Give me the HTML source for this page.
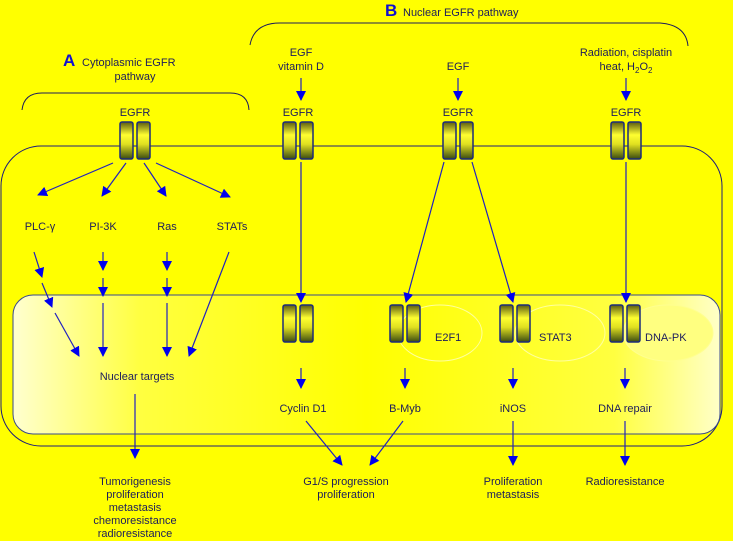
<!DOCTYPE html>
<html><head><style>
html,body{margin:0;padding:0;background:#ffff00;}
svg{display:block;}
text{font-family:"Liberation Sans",Arial,sans-serif;font-size:11px;fill:#1c1c5c;}
</style></head><body>
<svg width="733" height="541" viewBox="0 0 733 541" xmlns="http://www.w3.org/2000/svg">
<defs>
<linearGradient id="nuc" x1="0" y1="0" x2="1" y2="0">
<stop offset="0" stop-color="#ffffd0"/><stop offset="0.18" stop-color="#ffff40"/><stop offset="0.5" stop-color="#ffff00"/><stop offset="0.85" stop-color="#ffff40"/><stop offset="1" stop-color="#ffffc8"/>
</linearGradient>
<linearGradient id="bar" x1="0" y1="0" x2="0" y2="1">
<stop offset="0" stop-color="#5a5a10"/><stop offset="0.35" stop-color="#ffff30"/><stop offset="0.6" stop-color="#e0e020"/><stop offset="1" stop-color="#3a4a10"/>
</linearGradient>
<marker id="a" markerWidth="10" markerHeight="10" refX="9" refY="5" orient="auto" markerUnits="userSpaceOnUse">
<path d="M0,0 L10,5 L0,10 z" fill="#0000ee"/></marker>
<g id="rec">
<rect x="-15" y="0" width="13" height="37" rx="2" fill="url(#bar)" stroke="#1c2c7c" stroke-width="1.5"/>
<rect x="2" y="0" width="13" height="37" rx="2" fill="url(#bar)" stroke="#1c2c7c" stroke-width="1.5"/>
</g>
</defs>
<!-- brackets -->
<path d="M22,110 Q24,93 42,93 L230,93 Q248,93 249,110" fill="none" stroke="#1c1c5c" stroke-width="1"/>
<path d="M250,45 Q254,23 280,23 L660,23 Q686,25 688,46" fill="none" stroke="#1c1c5c" stroke-width="1"/>
<!-- cell -->
<rect x="1" y="146" width="721" height="300" rx="40" fill="none" stroke="#1c1c7c" stroke-width="1"/>
<!-- nucleus -->
<rect x="13" y="295" width="707" height="139" rx="20" fill="url(#nuc)" stroke="#3a4a8c" stroke-width="1"/>
<ellipse cx="440" cy="333" rx="42" ry="28" fill="none" stroke="#ffffa0" stroke-width="1"/>
<ellipse cx="560" cy="333" rx="45" ry="28" fill="none" stroke="#ffffa0" stroke-width="1"/>
<ellipse cx="668" cy="333" rx="45" ry="28" fill="#ffff80" stroke="#ffff90" stroke-width="1"/>
<!-- receptors -->
<use href="#rec" x="135" y="122"/>
<use href="#rec" x="298" y="122"/>
<use href="#rec" x="458" y="122"/>
<use href="#rec" x="626" y="122"/>
<use href="#rec" x="298" y="305"/>
<use href="#rec" x="405" y="305"/>
<use href="#rec" x="515" y="305"/>
<use href="#rec" x="625" y="305"/>
<!-- labels -->
<text x="63" y="66" style="font-size:17px;font-weight:bold;fill:#1010d0">A</text>
<text x="82" y="66">Cytoplasmic EGFR</text>
<text x="135" y="80" text-anchor="middle">pathway</text>
<text x="385" y="16" style="font-size:17px;font-weight:bold;fill:#1010d0">B</text>
<text x="403" y="16">Nuclear EGFR pathway</text>
<text x="301" y="56" text-anchor="middle">EGF</text>
<text x="301" y="70" text-anchor="middle">vitamin D</text>
<text x="458" y="70" text-anchor="middle">EGF</text>
<text x="626" y="56" text-anchor="middle">Radiation, cisplatin</text>
<text x="626" y="70" text-anchor="middle">heat, H<tspan dy="3" style="font-size:8px">2</tspan><tspan dy="-3">O</tspan><tspan dy="3" style="font-size:8px">2</tspan></text>
<text x="135" y="116" text-anchor="middle">EGFR</text>
<text x="298" y="116" text-anchor="middle">EGFR</text>
<text x="458" y="116" text-anchor="middle">EGFR</text>
<text x="626" y="116" text-anchor="middle">EGFR</text>
<text x="40" y="230" text-anchor="middle">PLC-γ</text>
<text x="103" y="230" text-anchor="middle">PI-3K</text>
<text x="167" y="230" text-anchor="middle">Ras</text>
<text x="232" y="230" text-anchor="middle">STATs</text>
<text x="137" y="380" text-anchor="middle">Nuclear targets</text>
<text x="435" y="341">E2F1</text>
<text x="539" y="341">STAT3</text>
<text x="645" y="341">DNA-PK</text>
<text x="303" y="412" text-anchor="middle">Cyclin D1</text>
<text x="405" y="412" text-anchor="middle">B-Myb</text>
<text x="513" y="412" text-anchor="middle">iNOS</text>
<text x="625" y="412" text-anchor="middle">DNA repair</text>
<text x="135" y="485" text-anchor="middle">Tumorigenesis</text>
<text x="135" y="498" text-anchor="middle">proliferation</text>
<text x="135" y="511" text-anchor="middle">metastasis</text>
<text x="135" y="524" text-anchor="middle">chemoresistance</text>
<text x="135" y="537" text-anchor="middle">radioresistance</text>
<text x="346" y="485" text-anchor="middle">G1/S progression</text>
<text x="346" y="498" text-anchor="middle">proliferation</text>
<text x="513" y="485" text-anchor="middle">Proliferation</text>
<text x="513" y="498" text-anchor="middle">metastasis</text>
<text x="625" y="485" text-anchor="middle">Radioresistance</text>
<!-- arrows -->
<g stroke="#2020c0" stroke-width="1.2" fill="none" marker-end="url(#a)">
<line x1="301" y1="78" x2="301" y2="100"/>
<line x1="458" y1="78" x2="458" y2="100"/>
<line x1="626" y1="78" x2="626" y2="100"/>
<line x1="113" y1="163" x2="38" y2="195"/>
<line x1="126" y1="163" x2="102" y2="196"/>
<line x1="144" y1="163" x2="166" y2="196"/>
<line x1="156" y1="163" x2="230" y2="197"/>
<line x1="34" y1="252" x2="42" y2="277"/>
<line x1="42" y1="283" x2="52" y2="307"/>
<line x1="55" y1="313" x2="79" y2="356"/>
<line x1="103" y1="252" x2="103" y2="270"/>
<line x1="103" y1="278" x2="103" y2="296"/>
<line x1="103" y1="303" x2="103" y2="356"/>
<line x1="167" y1="252" x2="167" y2="270"/>
<line x1="167" y1="278" x2="167" y2="296"/>
<line x1="167" y1="303" x2="167" y2="356"/>
<line x1="229" y1="252" x2="189" y2="356"/>
<line x1="135" y1="394" x2="135" y2="458"/>
<line x1="301" y1="162" x2="301" y2="302"/>
<line x1="444" y1="162" x2="406" y2="302"/>
<line x1="472" y1="162" x2="513" y2="302"/>
<line x1="626" y1="162" x2="626" y2="302"/>
<line x1="301" y1="368" x2="301" y2="388"/>
<line x1="405" y1="368" x2="405" y2="388"/>
<line x1="513" y1="368" x2="513" y2="388"/>
<line x1="625" y1="368" x2="625" y2="388"/>
<line x1="306" y1="421" x2="342" y2="465"/>
<line x1="403" y1="421" x2="370" y2="465"/>
<line x1="513" y1="421" x2="513" y2="465"/>
<line x1="625" y1="421" x2="625" y2="465"/>
</g>
</svg>
</body></html>
